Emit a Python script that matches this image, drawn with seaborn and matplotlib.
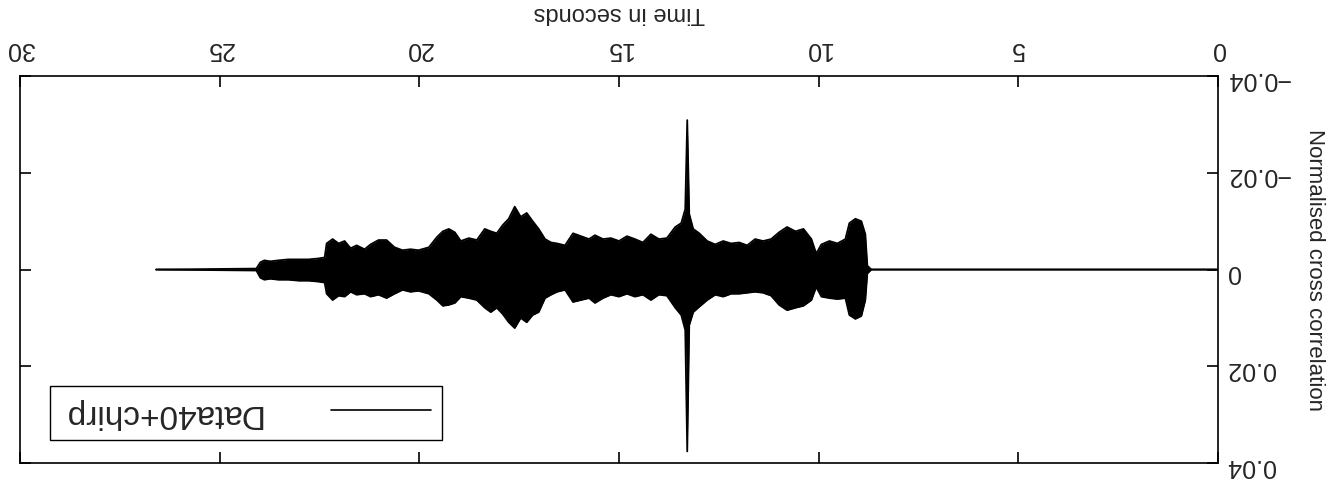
import matplotlib
matplotlib.use("Agg")
import matplotlib.pyplot as plt
import numpy as np
import pandas as pd
import seaborn as sns

TIME_S = [
    0.00, 8.68, 8.78, 8.83, 8.93, 9.08, 9.23, 9.33, 9.53, 9.73, 9.93, 10.06,
    10.18, 10.38, 10.58, 10.79, 10.99, 11.19, 11.39, 11.59, 11.79, 11.99,
    12.19, 12.39, 12.59, 12.79, 12.99, 13.14, 13.24, 13.29, 13.34, 13.44,
    13.59, 13.80, 14.00, 14.20, 14.40, 14.60, 14.80, 15.00, 15.20, 15.40,
    15.60, 15.75, 15.95, 16.15, 16.35, 16.55, 16.70, 16.85, 17.01, 17.16,
    17.31, 17.46, 17.61, 17.76, 17.91, 18.06, 18.21, 18.36, 18.56, 18.76,
    18.96, 19.11, 19.26, 19.41, 19.56, 19.76, 20.02, 20.22, 20.42, 20.62,
    20.82, 21.02, 21.22, 21.37, 21.57, 21.72, 21.87, 22.02, 22.17, 22.32,
    22.37, 22.52, 22.77, 23.02, 23.28, 23.53, 23.73, 23.88, 23.98, 24.08,
    26.59,
]
# negative-side envelope (x 1e-3), drawn upward because the y axis is flipped
NEG_ENV_MILLI = [
    0.0, 0.0, 0.8, 7.3, 10.0, 10.5, 9.6, 6.3, 5.4, 5.9, 5.2, 3.3,
    6.3, 8.4, 7.9, 8.8, 7.7, 6.3, 5.9, 6.3, 5.0, 5.6,
    5.4, 5.9, 5.2, 5.9, 7.5, 8.4, 11.5, 30.9, 12.5, 9.6,
    8.8, 6.5, 6.3, 7.3, 5.6, 6.3, 6.9, 5.9, 6.5, 6.3,
    7.1, 6.3, 6.9, 7.5, 5.0, 5.4, 5.6, 6.3, 8.4, 10.0,
    11.7, 10.9, 13.0, 10.5, 9.2, 7.5, 7.9, 8.4, 6.1, 6.5,
    5.9, 7.7, 8.4, 7.9, 6.7, 4.6, 4.0, 4.2, 4.0, 4.6,
    6.1, 6.1, 5.2, 4.2, 5.0, 4.4, 5.9, 5.4, 6.3, 5.4,
    2.5, 2.3, 2.1, 2.1, 2.1, 1.9, 1.7, 1.9, 1.5, 0.2,
    0.0,
]
POS_ENV_MILLI = [
    0.0, 0.0, 0.8, 6.3, 9.6, 10.2, 9.4, 5.9, 6.1, 5.9, 5.6, 3.6,
    6.3, 7.5, 7.9, 8.4, 7.3, 5.4, 4.8, 4.6, 4.8, 5.0,
    5.0, 5.6, 5.2, 6.3, 7.7, 8.8, 11.5, 37.6, 12.5, 9.4,
    7.9, 5.4, 5.2, 6.3, 5.2, 5.6, 5.0, 5.6, 5.2, 5.9,
    6.9, 5.9, 6.3, 6.7, 4.2, 4.6, 5.2, 5.9, 8.8, 9.4,
    10.9, 10.0, 12.1, 10.9, 9.2, 7.9, 8.8, 7.9, 6.3, 5.9,
    5.6, 6.9, 7.3, 7.5, 6.3, 5.0, 4.4, 4.6, 4.2, 5.0,
    5.9, 5.2, 5.6, 5.0, 5.2, 4.6, 5.6, 5.4, 6.3, 5.0,
    2.7, 2.5, 2.3, 2.3, 2.1, 2.1, 1.9, 2.1, 1.7, 0.2,
    0.0,
]

SERIES = "Data40+chirp"
X_TICKS = [0, 5, 10, 15, 20, 25, 30]
X_TICK_LABELS = ["0", "5", "10", "15", "20", "25", "30"]
Y_TICKS = [-0.04, -0.02, 0, 0.02, 0.04]
Y_TICK_LABELS = ["\u22120.04", "\u22120.02", "0", "0.02", "0.04"]

FONT = ["Liberation Sans", "DejaVu Sans"]


def main():
    sns.set_theme(style="ticks")
    plt.rcParams["font.family"] = FONT

    df = pd.DataFrame({
        "t": TIME_S,
        "lo": -np.array(NEG_ENV_MILLI) * 1e-3,
        "hi": np.array(POS_ENV_MILLI) * 1e-3,
    })

    fig = plt.figure(figsize=(13.39, 4.91), dpi=100)
    ax = fig.add_axes([0.0149, 0.057, 0.8947, 0.788])

    ax.fill_between(df["t"], df["lo"], df["hi"], color="black", linewidth=0)
    sns.lineplot(data=df, x="t", y="lo", color="black", linewidth=1.3,
                 estimator=None, sort=False, ax=ax, label=SERIES)
    sns.lineplot(data=df, x="t", y="hi", color="black", linewidth=1.3,
                 estimator=None, sort=False, ax=ax, legend=False)

    # the whole chart is shown turned upside down
    ax.set_xlim(30, 0)
    ax.set_ylim(0.04, -0.04)
    ax.set_xticks(X_TICKS)
    ax.set_xticklabels(X_TICK_LABELS, rotation=180, fontsize=18, family=FONT)
    ax.set_yticks(Y_TICKS)
    ax.set_yticklabels(Y_TICK_LABELS, rotation=180, fontsize=18, family=FONT)
    ax.tick_params(direction="in", length=8, width=1.2, color="black",
                   top=True, bottom=True, left=True, right=True,
                   labeltop=True, labelbottom=False,
                   labelright=True, labelleft=False)
    ax.tick_params(axis="x", pad=11)
    ax.tick_params(axis="y", pad=6)
    for s in ax.spines.values():
        s.set_linewidth(1.2)
        s.set_color("black")

    ax.xaxis.set_label_position("top")
    ax.set_xlabel("Time in seconds", rotation=180, fontsize=17, labelpad=13,
                  family=FONT)
    ax.yaxis.set_label_position("right")
    ax.set_ylabel("Normalised cross correlation", rotation=270, fontsize=16,
                  labelpad=10, family=FONT)
    ax.yaxis.label.set_verticalalignment("bottom")

    leg = ax.legend(loc="lower left", bbox_to_anchor=(0.025, 0.059),
                    borderaxespad=0, markerfirst=False,
                    prop={"family": FONT, "size": 24},
                    handlelength=3.0, handletextpad=2.1, borderpad=0.35,
                    frameon=True, fancybox=False, framealpha=1,
                    edgecolor="black")
    leg.get_frame().set_linewidth(1.0)
    for txt in leg.get_texts():
        txt.set_rotation(180)
    for line in leg.get_lines():
        line.set_linewidth(1.2)

    fig.savefig("out.png", dpi=100)
    plt.close(fig)


if __name__ == "__main__":
    main()
